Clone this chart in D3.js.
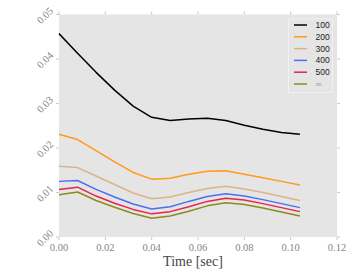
<!DOCTYPE html>
<html><head><meta charset="utf-8">
<script src="https://cdn.jsdelivr.net/npm/d3@7"></script>
<style>body{margin:0;background:#fff}</style>
</head><body>
<svg id="c" width="363" height="273"></svg>
<script>
const times = [0, 0.008, 0.016, 0.024, 0.032, 0.040, 0.048, 0.056, 0.064, 0.072, 0.080, 0.088, 0.096, 0.104];
const seriesNames = ["100", "200", "300", "400", "500", "∞"];
const s100 = [0.0457, 0.0413, 0.0370, 0.0330, 0.0294, 0.0269, 0.0262, 0.0265, 0.0267, 0.0262, 0.0251, 0.0242, 0.0235, 0.0231];
const s200 = [0.0231, 0.0219, 0.0194, 0.0169, 0.0145, 0.0130, 0.0132, 0.0141, 0.0148, 0.0149, 0.0141, 0.0133, 0.0125, 0.0117];
const s300 = [0.0159, 0.0156, 0.0137, 0.0118, 0.0099, 0.0086, 0.0090, 0.0100, 0.0109, 0.0114, 0.0108, 0.0100, 0.0091, 0.0082];
const s400 = [0.0125, 0.0127, 0.0107, 0.0090, 0.0074, 0.0063, 0.0068, 0.0080, 0.0091, 0.0097, 0.0092, 0.0084, 0.0075, 0.0066];
const s500 = [0.0107, 0.0112, 0.0092, 0.0076, 0.0062, 0.0052, 0.0057, 0.0068, 0.0080, 0.0087, 0.0083, 0.0075, 0.0066, 0.0057];
const sInf = [0.0095, 0.0101, 0.0082, 0.0067, 0.0053, 0.0042, 0.0047, 0.0058, 0.0070, 0.0077, 0.0073, 0.0065, 0.0056, 0.0047];
const seriesValues = [s100, s200, s300, s400, s500, sInf];
const colors = ["#000000", "#ff9a1a", "#d8b48c", "#4a6ff0", "#e8234c", "#8a8c1c"];
const xTicks = [0, 0.02, 0.04, 0.06, 0.08, 0.10, 0.12];
const yTicks = [0, 0.01, 0.02, 0.03, 0.04, 0.05];

const svg = d3.select("#c");
const L = 59, R = 337, T = 14.5, B = 237;
const x = d3.scaleLinear().domain([0, 0.12]).range([L, R]);
const y = d3.scaleLinear().domain([0, 0.05]).range([B, T]);

svg.append("rect").attr("x", L).attr("y", T).attr("width", R - L).attr("height", B - T).attr("fill", "#e5e5e5");

const tickCol = "#bbbbbb";
const serif = "Liberation Serif, DejaVu Serif, serif";
const g = svg.append("g");
xTicks.forEach(t => {
  g.append("line").attr("x1", x(t)).attr("x2", x(t)).attr("y1", B).attr("y2", B + 3).attr("stroke", tickCol).attr("stroke-width", 0.8);
  g.append("line").attr("x1", x(t)).attr("x2", x(t)).attr("y1", T).attr("y2", T - 3).attr("stroke", tickCol).attr("stroke-width", 0.8);
  g.append("text").attr("x", x(t)).attr("y", B + 14).attr("text-anchor", "middle")
    .attr("font-family", serif).attr("font-size", 10.5).attr("fill", "#858585")
    .text(d3.format(".2f")(t));
});
yTicks.forEach(t => {
  g.append("line").attr("x1", L).attr("x2", L - 3).attr("y1", y(t)).attr("y2", y(t)).attr("stroke", tickCol).attr("stroke-width", 0.8);
  g.append("line").attr("x1", R).attr("x2", R + 3).attr("y1", y(t)).attr("y2", y(t)).attr("stroke", tickCol).attr("stroke-width", 0.8);
  g.append("text").attr("transform", `translate(${L - 5},${y(t) - 3}) rotate(-45)`).attr("text-anchor", "end")
    .attr("font-family", serif).attr("font-size", 10.5).attr("fill", "#858585")
    .text(d3.format(".2f")(t));
});

svg.append("text").attr("x", (L + R) / 2 - 5).attr("y", 266).attr("text-anchor", "middle")
  .attr("font-family", serif).attr("font-size", 14).attr("fill", "#444")
  .text("Time [sec]");

const line = d3.line().x((d, i) => x(times[i])).y(d => y(d));
seriesValues.forEach((vals, k) => {
  svg.append("path").attr("d", line(vals)).attr("fill", "none").attr("stroke", colors[k]).attr("stroke-width", 1.5).attr("stroke-linejoin", "round");
});

const lg = svg.append("g");
lg.append("rect").attr("x", 288.5).attr("y", 19).attr("width", 44).attr("height", 73.5)
  .attr("fill", "#e5e5e5").attr("stroke", "#f4f4f4").attr("stroke-width", 0.8);
seriesNames.forEach((n, k) => {
  const yy = 25 + k * 11.8;
  lg.append("line").attr("x1", 294).attr("x2", 307).attr("y1", yy).attr("y2", yy).attr("stroke", colors[k]).attr("stroke-width", 1.5);
  lg.append("text").attr("x", 315.5).attr("y", yy + 3).attr("font-family", "Liberation Sans, Arial, sans-serif")
    .attr("font-size", 8.5).attr("fill", k === 5 ? "#999" : "#222").text(n);
});
</script>
</body></html>
